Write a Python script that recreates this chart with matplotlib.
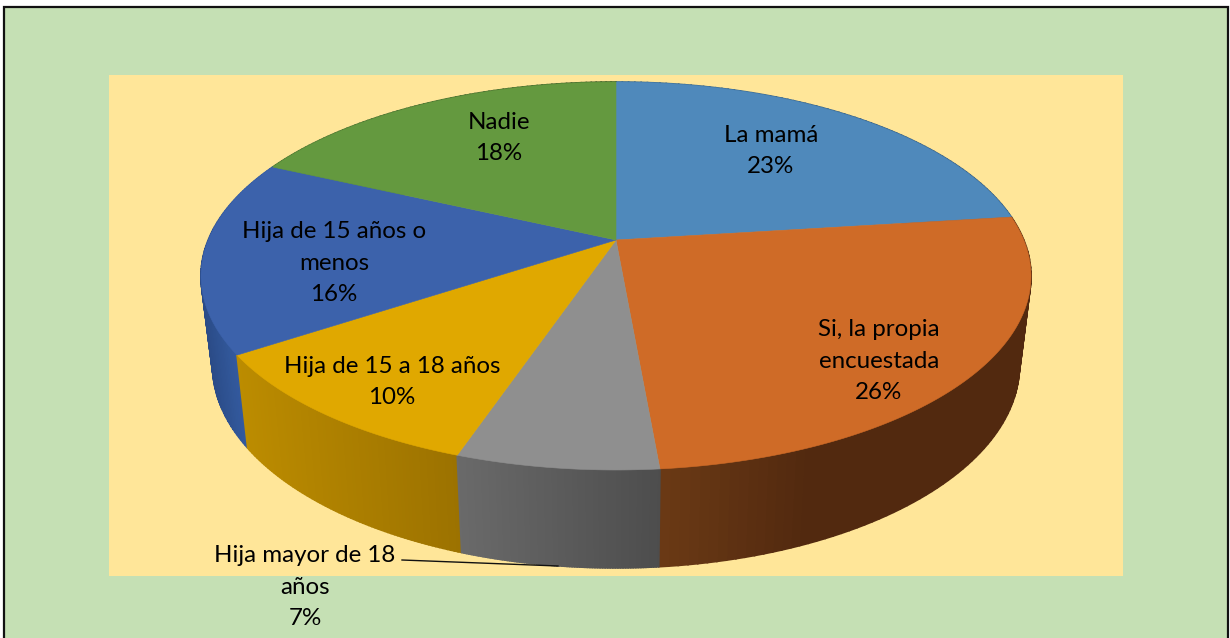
import numpy as np
import matplotlib
matplotlib.use("Agg")
import matplotlib.pyplot as plt
from matplotlib.patches import Polygon, Rectangle
from matplotlib.colors import to_rgb

categories = ["La mamá", "Si, la propia\nencuestada", "Hija mayor de 18\naños",
              "Hija de 15 a 18 años", "Hija de 15 años o\nmenos", "Nadie"]
values = [23.0, 25.6, 6.6, 10.5, 16.2, 18.1]
percent_labels = ["23%", "26%", "7%", "10%", "16%", "18%"]

top_colors = ["#4F89BB", "#CF6B27", "#8F8F8F", "#E0A800", "#3C62AB", "#64993F"]
side_left = ["#3A6A90", "#6B3A15", "#6A6A6A", "#BC8C00", "#2A4A85", "#4A7230"]
side_right = ["#2F5577", "#52290F", "#4D4D4D", "#9C7200", "#335A9E", "#3F6028"]
label_pos = [(771, 151), (879, 361), (305, 587), (392, 382), (334, 263), (499, 138)]

# projection of the pie disc (pixel space)
CX, CY = 616.0, 240.0
A, B, K = 407.8, 187.3, 0.1856


def top_xy(theta):
    u, v = np.sin(theta), np.cos(theta)
    d = 1 + K * v
    return CX + A * u / d, CY - B * v / d


def bottom_xy(theta):
    x, y = top_xy(theta)
    return CX + 0.972 * (x - CX), CY + 88 + 1.043 * (y - CY)


fig = plt.figure(figsize=(12.3, 6.38), dpi=100, facecolor="white")
ax = fig.add_axes([0, 0, 1, 1])
ax.set_xlim(0, 1230)
ax.set_ylim(638, 0)
ax.axis("off")

ax.add_patch(Rectangle((3.5, 6.5), 1224.5, 640, fc="#C5E0B4", ec="#111111", lw=1.6, zorder=0))
ax.add_patch(Rectangle((109, 75), 1014, 501, fc="#FFE699", ec="none", zorder=1))

edges = np.radians(np.concatenate([[0], np.cumsum(values)]) * 3.6)
quads = []
for i in range(len(values)):
    th = np.linspace(edges[i], edges[i + 1], 80)
    xt, yt = top_xy(th)
    xb, yb = bottom_xy(th)
    front = np.cos(th) < 0.1
    if front.any():
        xmin, xmax = xt[front].min(), xt[front].max()
    else:
        xmin, xmax = xt.min(), xt.max()
    c0, c1 = np.array(to_rgb(side_left[i])), np.array(to_rgb(side_right[i]))
    for j in range(len(th) - 1):
        t = np.clip((0.5 * (xt[j] + xt[j + 1]) - xmin) / max(xmax - xmin, 1), 0, 1)
        if i == 1:
            t = min(t * 2.5, 1)
        col = c0 + (c1 - c0) * t
        quad = [(xt[j], yt[j]), (xt[j + 1], yt[j + 1]), (xb[j + 1], yb[j + 1]), (xb[j], yb[j])]
        quads.append((np.cos(th[j]), quad, col))

for _, quad, col in sorted(quads, key=lambda q: -q[0]):
    ax.add_patch(Polygon(quad, closed=True, fc=col, ec=col, lw=1.2, zorder=2))

for i in range(len(values)):
    th = np.linspace(edges[i], edges[i + 1], 200)
    xt, yt = top_xy(th)
    pts = np.column_stack([np.r_[CX, xt], np.r_[CY, yt]])
    ax.add_patch(Polygon(pts, closed=True, fc=top_colors[i], ec=top_colors[i], lw=0.4, zorder=3))

ax.plot([402, 558], [560, 566], color="#111111", lw=1.0, zorder=4)

for name, pct, (x, y) in zip(categories, percent_labels, label_pos):
    ax.text(x, y, name + "\n" + pct, ha="center", va="center", fontsize=17.4,
            family="Lato", color="#000000", linespacing=1.63, zorder=5)

fig.savefig("out.png", dpi=100)
